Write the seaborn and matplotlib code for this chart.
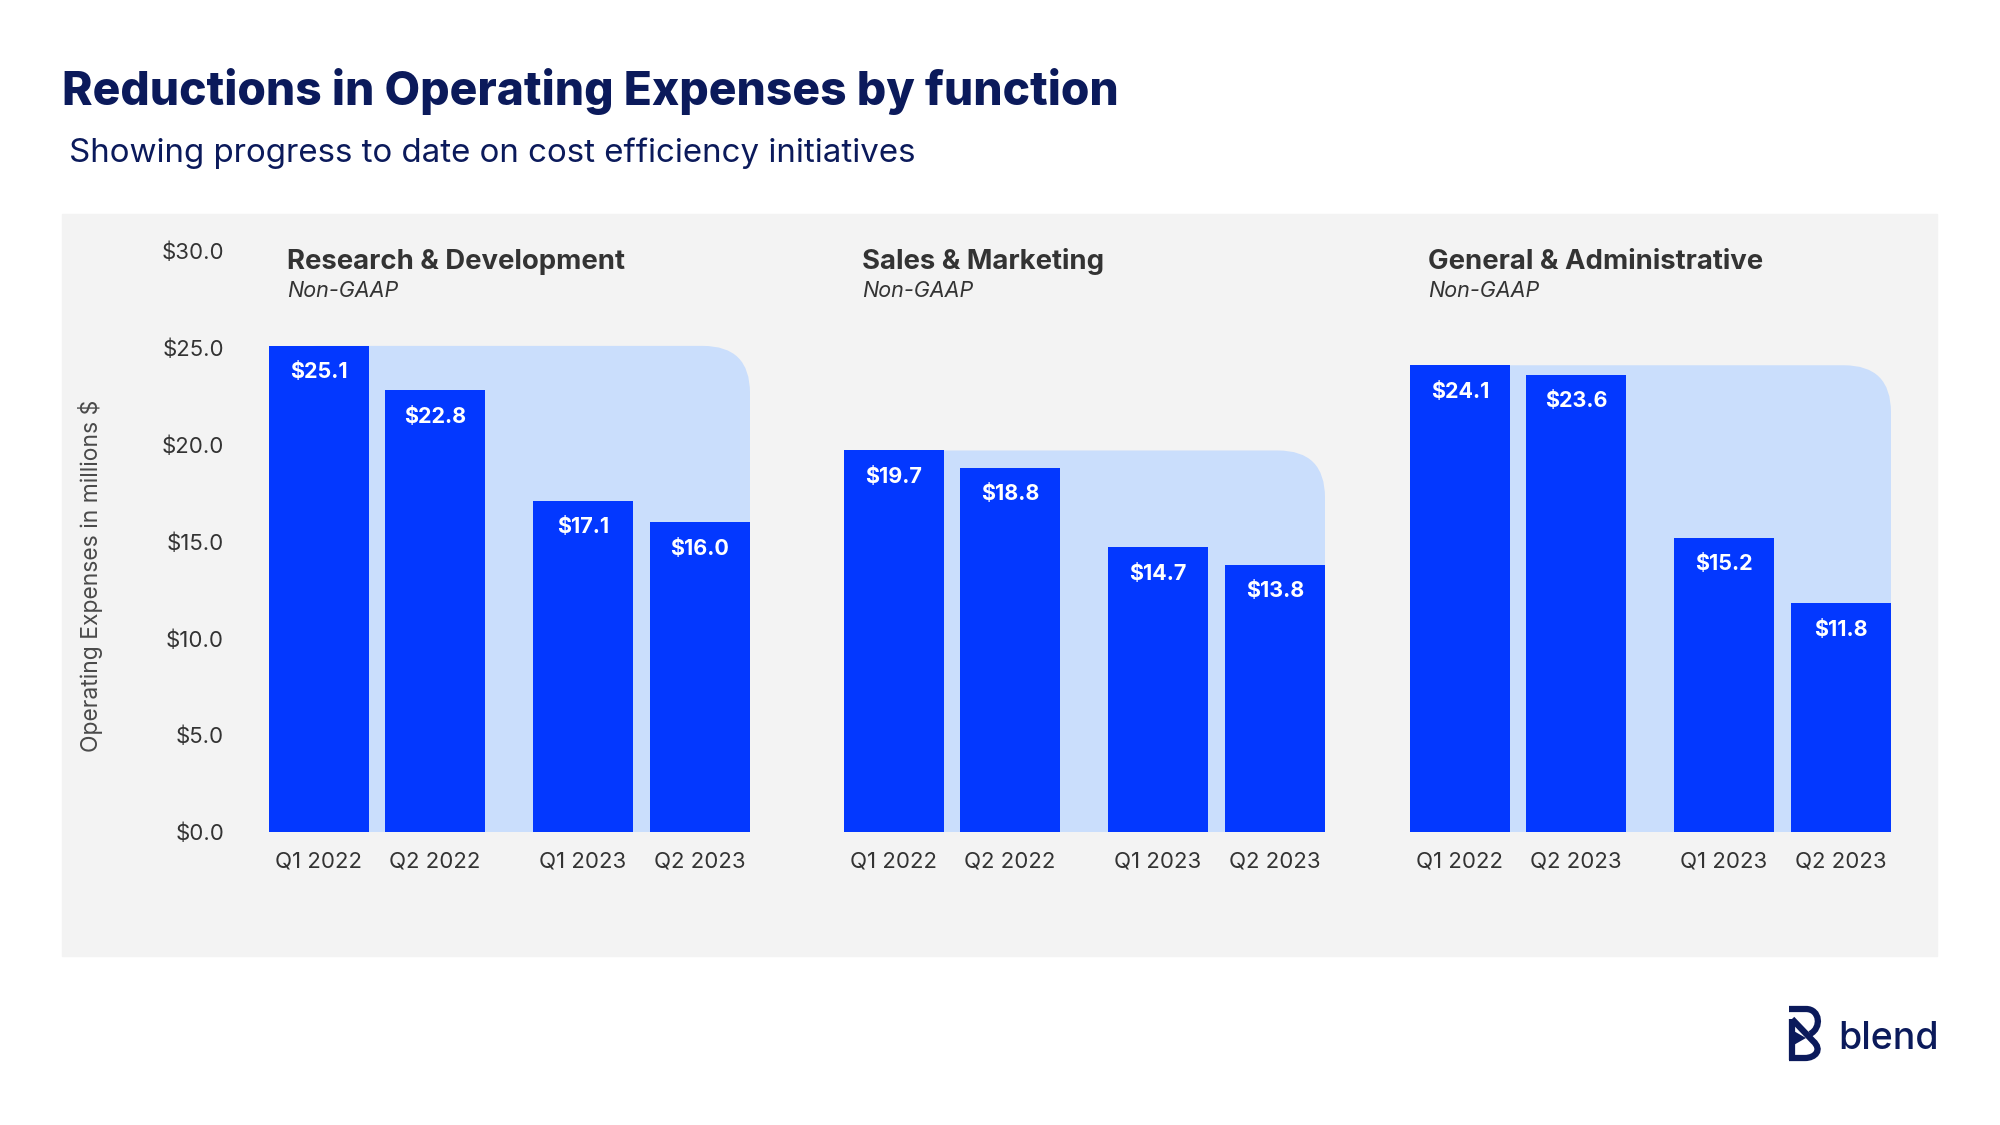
import matplotlib
matplotlib.use("Agg")
import matplotlib.pyplot as plt
import seaborn as sns
import pandas as pd
from matplotlib.patches import FancyBboxPatch, Rectangle, PathPatch, Polygon
from matplotlib.path import Path

# ---- data ----
functions = ["Research & Development", "Sales & Marketing", "General & Administrative"]
basis = ["Non-GAAP", "Non-GAAP", "Non-GAAP"]
rd_quarters = ["Q1 2022", "Q2 2022", "Q1 2023", "Q2 2023"]
sm_quarters = ["Q1 2022", "Q2 2022", "Q1 2023", "Q2 2023"]
ga_quarters = ["Q1 2022", "Q2 2023", "Q1 2023", "Q2 2023"]
rd_values = [25.1, 22.8, 17.1, 16.0]
sm_values = [19.7, 18.8, 14.7, 13.8]
ga_values = [24.1, 23.6, 15.2, 11.8]
y_ticks = [0, 5, 10, 15, 20, 25, 30]

title = "Reductions in Operating Expenses by function"
subtitle = "Showing progress to date on cost efficiency initiatives"
y_label = "Operating Expenses in millions $"

# ---- layout (figure pixels, 2000 x 1125) ----
W, H = 2000, 1125
group_left = [269, 844, 1410]
bar_offsets = [0, 116, 264, 381]
bar_w = 100
base_y, top_y = 832, 251      # pixel rows of $0 and $30
ax_left, ax_right = 240, 1940

BLUE = "#0338ff"
LIGHT = "#cadefc"
PANEL = "#f3f3f3"
NAVY = "#0b1a5b"
TEXT = "#333333"


def fx(x):
    return x / W


def fy(y):
    return 1 - y / H


sns.set_style("white")
plt.rcParams["font.family"] = ["Inter", "DejaVu Sans"]

all_quarters = [rd_quarters, sm_quarters, ga_quarters]
all_values = [rd_values, sm_values, ga_values]

rows = []
for g in range(len(functions)):
    for i, (q, v) in enumerate(zip(all_quarters[g], all_values[g])):
        rows.append({"function": functions[g], "quarter": q, "value": v,
                     "pos": group_left[g] + bar_offsets[i] + bar_w / 2})
df = pd.DataFrame(rows)

fig = plt.figure(figsize=(20, 11.25), dpi=100)
fig.add_artist(Rectangle((fx(62), fy(956)), (1937 - 62) / W, (956 - 214) / H,
                         transform=fig.transFigure, color=PANEL, zorder=-1))

ax = fig.add_axes([fx(ax_left), fy(base_y), (ax_right - ax_left) / W, (base_y - top_y) / H])
ax.set_facecolor("none")

# bars
min_gap = min(b - a for a, b in zip(bar_offsets[:-1], bar_offsets[1:]))
sns.barplot(data=df, x="pos", y="value", native_scale=True, width=bar_w / min_gap,
            color=BLUE, saturation=1, errorbar=None, linewidth=0, ax=ax, zorder=3)
ax.set_xlim(ax_left, ax_right)
ax.set_ylim(0, 30)

# light backdrop behind each group, rounded top-right corner
p0 = ax.transData.transform((0, 0))
p1 = ax.transData.transform((1, 1))
aspect = (p1[0] - p0[0]) / (p1[1] - p0[1])
for g, values in enumerate(all_values):
    x0 = group_left[g]
    x1 = group_left[g] + bar_offsets[-1] + bar_w
    ax.add_patch(FancyBboxPatch((x0, 0), x1 - x0, max(values),
                                boxstyle="round,pad=0,rounding_size=47",
                                mutation_aspect=aspect, fc=LIGHT, ec="none", zorder=1))

# value labels
for _, r in df.iterrows():
    ax.annotate(f"${r.value:.1f}", (r.pos, r.value), xytext=(0, -19),
                textcoords="offset points", ha="center", va="center",
                color="white", fontsize=15.5, fontweight="bold", zorder=5)

ax.set_xticks(df["pos"], df["quarter"])
ax.set_yticks(y_ticks, [f"${t:.1f}" for t in y_ticks])
ax.tick_params(axis="both", length=0, labelsize=16, colors=TEXT)
ax.tick_params(axis="y", pad=11.5)
ax.tick_params(axis="x", pad=14)
ax.set_xlabel("")
ax.set_ylabel("")
sns.despine(ax=ax, left=True, bottom=True)

# group headers
for g in range(len(functions)):
    fig.text(fx(group_left[g] + 18), fy(269), functions[g], fontsize=19.8,
             fontweight="bold", color=TEXT, va="baseline")
    fig.text(fx(group_left[g] + 18), fy(297), basis[g], fontsize=15.5,
             fontstyle="italic", color=TEXT, va="baseline")

fig.text(fx(91), fy(576), y_label, rotation=90, ha="center", va="center",
         fontsize=16.5, color="#4a4a4a")

# titles
fig.text(fx(62), fy(105), title, fontsize=33.2, fontweight="heavy", color=NAVY, va="baseline")
fig.text(fx(69), fy(162), subtitle, fontsize=23.8, color=NAVY, va="baseline")

# logo
fig.text(fx(1838), fy(1049), "blend", fontsize=27, fontweight="medium", color=NAVY, va="baseline")
icon = [
    [(1792, 1019), (1792, 1060)],
    [(1789, 1009), (1806, 1009), (1820, 1009), (1822, 1028), (1810, 1034)],
    [(1792, 1019), (1813, 1041), (1823, 1050), (1815, 1058), (1805, 1058), (1789, 1058)],
]
codes = [
    [Path.MOVETO, Path.LINETO],
    [Path.MOVETO, Path.LINETO, Path.CURVE4, Path.CURVE4, Path.CURVE4],
    [Path.MOVETO, Path.LINETO, Path.CURVE4, Path.CURVE4, Path.CURVE4, Path.LINETO],
]
for pts, cds in zip(icon, codes):
    path = Path([(fx(x), fy(y)) for x, y in pts], cds)
    fig.add_artist(PathPatch(path, fc="none", ec=NAVY, lw=4.5, capstyle="butt",
                             joinstyle="miter", transform=fig.transFigure))
fig.add_artist(Polygon([(fx(1792), fy(1030)), (fx(1792), fy(1046)), (fx(1806), fy(1038))],
                       closed=True, fc=NAVY, ec="none", transform=fig.transFigure))

fig.savefig("out.png", dpi=100)
